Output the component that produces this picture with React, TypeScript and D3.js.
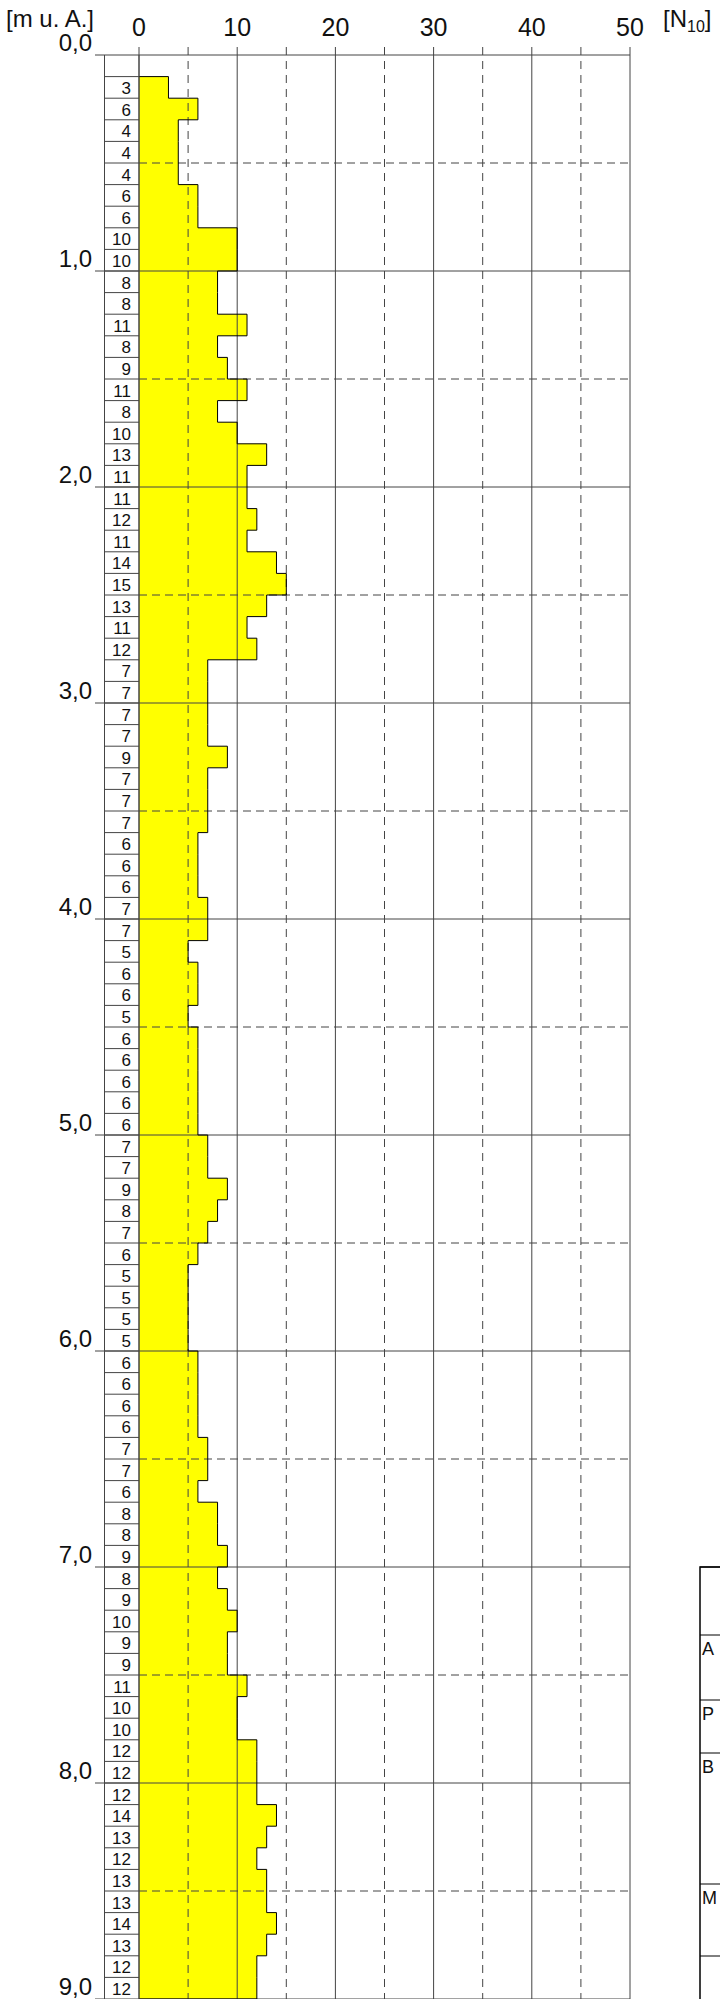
import { scaleLinear, line } from "d3";

// Rammsondierung: Schlagzahlen N10 je 10 cm, ab 0,1 m u. A.
const startDepth = 0.1;
const step = 0.1;
const blows = [
  3, 6, 4, 4, 4, 6, 6, 10, 10,
  8, 8, 11, 8, 9, 11, 8, 10, 13, 11,
  11, 12, 11, 14, 15, 13, 11, 12, 7, 7,
  7, 7, 9, 7, 7, 7, 6, 6, 6, 7,
  7, 5, 6, 6, 5, 6, 6, 6, 6, 6,
  7, 7, 9, 8, 7, 6, 5, 5, 5, 5,
  6, 6, 6, 6, 7, 7, 6, 8, 8, 9,
  8, 9, 10, 9, 9, 11, 10, 10, 12, 12,
  12, 14, 13, 12, 13, 13, 14, 13, 12, 12,
];
const xTicks = [0, 10, 20, 30, 40, 50];
const xMinor = [5, 15, 25, 35, 45];
const depthTicks = [0, 1, 2, 3, 4, 5, 6, 7, 8, 9];
const depthHalf = [0.5, 1.5, 2.5, 3.5, 4.5, 5.5, 6.5, 7.5, 8.5];
// nur die sichtbaren Anfangsbuchstaben des Schriftfelds
const legendRows = ["", "A", "P", "B", "M", ""];

const W = 720;
const H = 1999;
const FONT = "Liberation Sans, Arial, sans-serif";

const App = () => {
  const x = scaleLinear([0, 50], [139, 630]);
  const y = scaleLinear([0, 9], [55, 55 + 9 * 216]);

  // Umriss der Treppenkurve
  const pts: [number, number][] = [[x(0), y(startDepth)]];
  blows.forEach((v, i) => {
    const d = startDepth + i * step;
    pts.push([x(v), y(d)]);
    pts.push([x(v), y(d + step)]);
  });
  pts.push([x(0), y(startDepth + blows.length * step)]);
  const outline = line()(pts) as string;
  const fillPath = outline + "Z";

  const colLeft = 104.5;
  const gridColor = "#444";

  // Schriftfeld rechts unten (vom Bildrand abgeschnitten)
  const boxX = 700;
  const boxLines = [1567, 1635, 1700, 1753, 1884, 1956];

  return (
    <div style={{ position: "absolute", left: 0, top: 0 }}>
      <svg width={W} height={H} style={{ display: "block", fontFamily: FONT }}>
        <rect width={W} height={H} fill="#fff" />
        {/* Balken */}
        <path d={fillPath} fill="#ffff00" stroke="none" />

        {/* vertikale Gitterlinien */}
        {xTicks.map((t) => (
          <line key={"v" + t} x1={x(t)} x2={x(t)} y1={y(0) - 8} y2={H} stroke={gridColor} strokeWidth={1} />
        ))}
        {xMinor.map((t) => (
          <line key={"vm" + t} x1={x(t)} x2={x(t)} y1={y(0) - 8} y2={H} stroke={gridColor} strokeWidth={1} strokeDasharray="8,6" />
        ))}
        {/* horizontale Linien */}
        {depthTicks.map((d) => (
          <line key={"h" + d} x1={95} x2={x(50)} y1={y(d)} y2={y(d)} stroke={gridColor} strokeWidth={1} />
        ))}
        {depthHalf.map((d) => (
          <line key={"hm" + d} x1={x(0)} x2={x(50)} y1={y(d)} y2={y(d)} stroke={gridColor} strokeWidth={1} strokeDasharray="8,5" />
        ))}

        {/* Umriss */}
        <path d={outline} fill="none" stroke="#000" strokeWidth={1} />

        {/* Spalte mit Schlagzahlen */}
        <line x1={colLeft} x2={colLeft} y1={y(0)} y2={H} stroke={gridColor} strokeWidth={1} />
        <line x1={x(0)} x2={x(0)} y1={y(0)} y2={H} stroke={gridColor} strokeWidth={1} />
        {blows.map((v, i) => {
          const d = startDepth + i * step;
          return (
            <g key={"c" + i}>
              <line x1={colLeft} x2={x(0)} y1={y(d)} y2={y(d)} stroke={gridColor} strokeWidth={1} />
              <text x={131} y={y(d + step) - 4} textAnchor="end" fontSize={17} fill="#111">
                {v}
              </text>
            </g>
          );
        })}

        {/* Tiefenbeschriftung */}
        {depthTicks.map((d) => (
          <text key={"dl" + d} x={92} y={y(d) - 4} textAnchor="end" fontSize={24} fill="#111">
            {d.toFixed(1).replace(".", ",")}
          </text>
        ))}

        {/* Achsbeschriftung oben */}
        {xTicks.map((t) => (
          <text key={"xl" + t} x={x(t)} y={36} textAnchor="middle" fontSize={25} fill="#111">
            {t}
          </text>
        ))}
        <text x={6} y={27} fontSize={24} fill="#111">
          [m u. A.]
        </text>
        <text x={663} y={27} fontSize={24} fill="#111">
          [N<tspan fontSize={16} dy={5}>10</tspan>
          <tspan dy={-5}>]</tspan>
        </text>

        {/* Schriftfeld */}
        <rect x={boxX} y={boxLines[0]} width={40} height={H} fill="none" stroke="#000" strokeWidth={1.5} />
        {boxLines.map((b, i) => (
          <g key={"b" + i}>
            <line x1={boxX} x2={W} y1={b} y2={b} stroke="#000" strokeWidth={1} />
            <text x={boxX + 2} y={b + 20} fontSize={18} fill="#111">
              {legendRows[i]}
            </text>
          </g>
        ))}
      </svg>
    </div>
  );
};

export default App;
